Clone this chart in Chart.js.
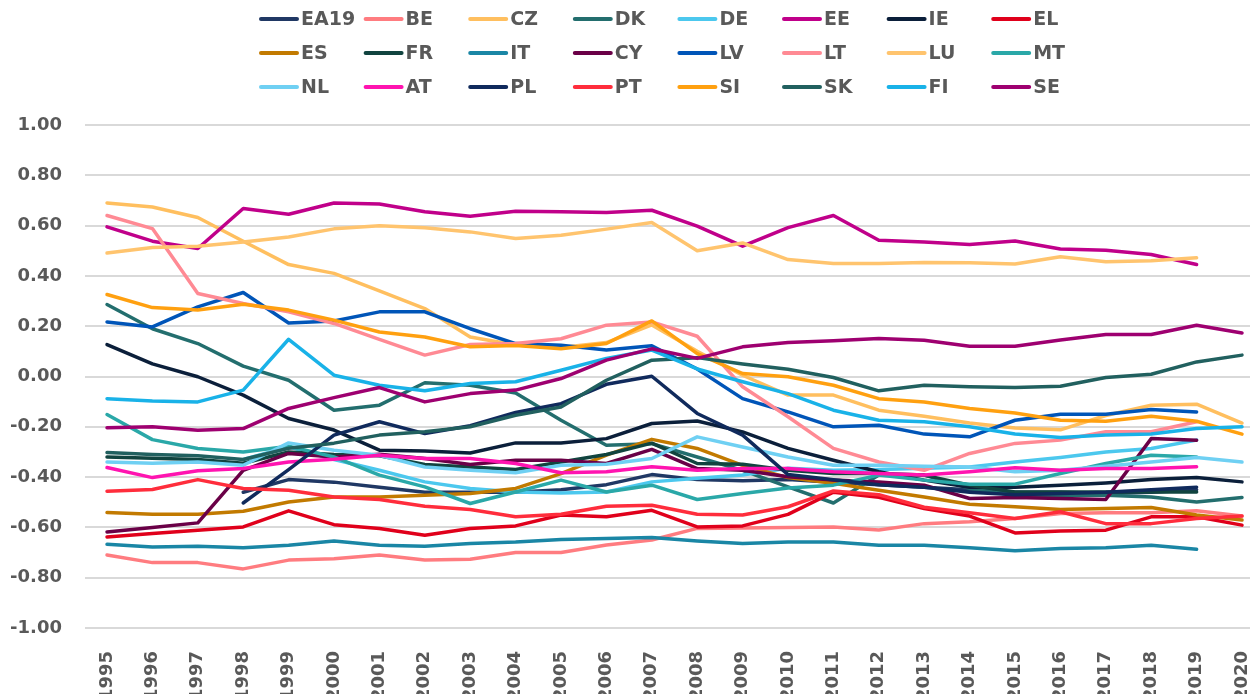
<!DOCTYPE html>
<html>
<head>
<meta charset="utf-8">
<script src="https://cdn.jsdelivr.net/npm/chart.js@4/dist/chart.umd.min.js"></script>
<style>
  body { margin: 0; background: #fff; overflow: hidden; }
</style>
</head>
<body>
<canvas id="corr_chart" width="1250" height="694"></canvas>
<script>
const years = [1995, 1996, 1997, 1998, 1999, 2000, 2001, 2002, 2003, 2004, 2005, 2006, 2007,
  2008, 2009, 2010, 2011, 2012, 2013, 2014, 2015, 2016, 2017, 2018, 2019, 2020];

const yTicks = [-1, -0.8, -0.6, -0.4, -0.2, 0, 0.2, 0.4, 0.6, 0.8, 1];

const countries = ["EA19", "BE", "CZ", "DK", "DE", "EE", "IE", "EL",
  "ES", "FR", "IT", "CY", "LV", "LT", "LU", "MT",
  "NL", "AT", "PL", "PT", "SI", "SK", "FI", "SE"];

const colors = ["#203864", "#ff7c80", "#ffbf5f", "#236e6e", "#4cc8ee", "#c0008a", "#0b1f3a", "#e0001b",
  "#c27a00", "#11443f", "#1a86a5", "#6a0047", "#0055b8", "#ff8a94", "#ffc46e", "#2aa8a8",
  "#6fd0f3", "#ff14b0", "#102a5c", "#ff2d3c", "#ffa010", "#21605f", "#19b2e8", "#9e0070"];

const EA19 = [null, null, null, -0.46, -0.41, -0.42, -0.44, -0.46, -0.46, -0.46, -0.45, -0.43, -0.39,
  -0.41, -0.415, -0.41, -0.42, -0.43, -0.44, -0.45, -0.46, -0.46, -0.465, -0.46, -0.45, null];
const BE = [-0.71, -0.74, -0.74, -0.765, -0.73, -0.725, -0.71, -0.73, -0.727, -0.70, -0.70, -0.67, -0.65,
  -0.604, -0.602, -0.60, -0.598, -0.61, -0.585, -0.578, -0.565, -0.545, -0.542, -0.542, -0.534, -0.555];
const CZ = [0.69, 0.674, 0.632, 0.538, 0.445, 0.41, 0.34, 0.27, 0.157, 0.125, 0.115, 0.135, 0.205,
  0.10, 0.005, -0.074, -0.074, -0.134, -0.158, -0.185, -0.205, -0.212, -0.155, -0.114, -0.11, -0.185];
const DK = [0.286, 0.19, 0.131, 0.041, -0.015, -0.134, -0.114, -0.025, -0.035, -0.066, -0.174, -0.273, -0.267,
  -0.32, -0.373, -0.439, -0.503, -0.392, -0.392, -0.445, -0.472, -0.472, -0.472, -0.479, -0.499, -0.481];
const DE = [null, null, null, -0.33, -0.28, -0.33, -0.373, -0.419, -0.445, -0.459, -0.463, -0.459, -0.419,
  -0.405, -0.392, -0.365, -0.373, -0.37, -0.365, -0.36, -0.34, -0.322, -0.30, -0.286, -0.253, null];
const EE = [0.595, 0.538, 0.509, 0.668, 0.645, 0.69, 0.686, 0.655, 0.637, 0.657, 0.655, 0.652, 0.661,
  0.598, 0.518, 0.592, 0.64, 0.542, 0.535, 0.525, 0.539, 0.507, 0.502, 0.485, 0.445, null];
const IE = [0.127, 0.05, -0.001, -0.074, -0.167, -0.213, -0.293, -0.296, -0.304, -0.264, -0.264, -0.247, -0.187,
  -0.177, -0.22, -0.286, -0.333, -0.379, -0.412, -0.44, -0.44, -0.432, -0.423, -0.41, -0.402, -0.419];
const EL = [-0.638, -0.624, -0.611, -0.598, -0.534, -0.589, -0.604, -0.631, -0.604, -0.594, -0.551, -0.558, -0.532,
  -0.598, -0.594, -0.548, -0.46, -0.48, -0.525, -0.555, -0.622, -0.614, -0.611, -0.558, -0.558, -0.591];
const ES = [-0.541, -0.548, -0.548, -0.536, -0.499, -0.479, -0.479, -0.472, -0.465, -0.445, -0.386, -0.313, -0.25,
  -0.286, -0.353, -0.402, -0.425, -0.452, -0.479, -0.508, -0.518, -0.529, -0.525, -0.521, -0.551, -0.571];
const FR = [-0.32, -0.325, -0.33, -0.345, -0.30, -0.31, -0.315, -0.35, -0.36, -0.37, -0.34, -0.31, -0.265,
  -0.346, -0.349, -0.373, -0.386, -0.386, -0.392, -0.432, -0.459, -0.459, -0.459, -0.459, -0.459, null];
const IT = [-0.667, -0.678, -0.675, -0.681, -0.671, -0.654, -0.671, -0.675, -0.664, -0.658, -0.648, -0.644, -0.64,
  -0.654, -0.664, -0.658, -0.658, -0.671, -0.671, -0.681, -0.693, -0.684, -0.681, -0.671, -0.687, null];
const CY = [-0.618, -0.60, -0.582, -0.373, -0.306, -0.32, -0.309, -0.326, -0.35, -0.333, -0.333, -0.346, -0.29,
  -0.366, -0.373, -0.399, -0.412, -0.419, -0.432, -0.485, -0.481, -0.485, -0.489, -0.247, -0.253, null];
const LV = [0.217, 0.197, 0.277, 0.334, 0.213, 0.221, 0.257, 0.257, 0.19, 0.131, 0.124, 0.105, 0.122,
  0.03, -0.088, -0.141, -0.2, -0.194, -0.229, -0.24, -0.174, -0.15, -0.15, -0.131, -0.141, null];
const LT = [0.64, 0.588, 0.33, 0.29, 0.257, 0.211, 0.148, 0.085, 0.127, 0.131, 0.15, 0.204, 0.217,
  0.16, -0.041, -0.16, -0.286, -0.34, -0.373, -0.306, -0.266, -0.253, -0.22, -0.22, -0.18, null];
const LU = [0.491, 0.513, 0.518, 0.535, 0.555, 0.587, 0.599, 0.591, 0.575, 0.549, 0.562, 0.586, 0.612,
  0.50, 0.531, 0.465, 0.449, 0.449, 0.453, 0.452, 0.447, 0.476, 0.456, 0.46, 0.472, null];
const MT = [-0.151, -0.251, -0.286, -0.30, -0.277, -0.32, -0.392, -0.439, -0.505, -0.459, -0.412, -0.459, -0.432,
  -0.489, -0.465, -0.443, -0.432, -0.392, -0.412, -0.428, -0.428, -0.386, -0.346, -0.313, -0.32, null];
const NL = [-0.34, -0.345, -0.34, -0.353, -0.264, -0.293, -0.313, -0.36, -0.373, -0.383, -0.353, -0.349, -0.326,
  -0.24, -0.28, -0.32, -0.353, -0.353, -0.357, -0.36, -0.379, -0.373, -0.357, -0.34, -0.322, -0.34];
const AT = [-0.362, -0.402, -0.375, -0.366, -0.34, -0.329, -0.313, -0.326, -0.326, -0.346, -0.383, -0.379, -0.359,
  -0.373, -0.366, -0.366, -0.379, -0.386, -0.392, -0.379, -0.363, -0.373, -0.366, -0.366, -0.359, null];
const PL = [null, null, null, -0.503, -0.37, -0.233, -0.18, -0.227, -0.196, -0.143, -0.108, -0.031, 0.001,
  -0.147, -0.233, -0.39, -0.41, -0.43, -0.44, -0.46, -0.47, -0.465, -0.46, -0.45, -0.44, null];
const PT = [-0.456, -0.449, -0.41, -0.445, -0.452, -0.479, -0.489, -0.516, -0.529, -0.558, -0.548, -0.516, -0.512,
  -0.548, -0.551, -0.518, -0.455, -0.47, -0.52, -0.542, -0.565, -0.538, -0.585, -0.585, -0.565, -0.555];
const SI = [0.326, 0.274, 0.264, 0.287, 0.264, 0.224, 0.177, 0.157, 0.118, 0.123, 0.11, 0.131, 0.221,
  0.091, 0.012, -0.001, -0.035, -0.088, -0.101, -0.127, -0.145, -0.174, -0.178, -0.158, -0.178, -0.229];
const SK = [-0.302, -0.31, -0.315, -0.33, -0.285, -0.265, -0.233, -0.22, -0.2, -0.154, -0.121, -0.015, 0.065,
  0.075, 0.05, 0.029, -0.004, -0.057, -0.035, -0.041, -0.044, -0.039, -0.004, 0.009, 0.058, 0.085];
const FI = [-0.088, -0.097, -0.101, -0.054, 0.148, 0.005, -0.035, -0.057, -0.028, -0.021, 0.025, 0.072, 0.105,
  0.03, -0.021, -0.068, -0.134, -0.174, -0.18, -0.2, -0.229, -0.243, -0.233, -0.229, -0.207, -0.2];
const SE = [-0.204, -0.2, -0.214, -0.207, -0.127, -0.084, -0.044, -0.101, -0.068, -0.054, -0.008, 0.065, 0.11,
  0.072, 0.118, 0.135, 0.142, 0.151, 0.144, 0.12, 0.12, 0.145, 0.167, 0.167, 0.204, 0.173];

const series = [EA19, BE, CZ, DK, DE, EE, IE, EL, ES, FR, IT, CY, LV, LT, LU, MT,
  NL, AT, PL, PT, SI, SK, FI, SE];

const tickFont = { family: "DejaVu Sans", size: 18, weight: "bold" };

// legend is drawn as a fixed grid (8 columns x 3 rows), like the original
const gridLegend = {
  id: "gridLegend",
  afterDraw(chart) {
    const ctx = chart.ctx;
    ctx.save();
    ctx.font = 'bold 19px "DejaVu Sans"';
    ctx.textBaseline = "middle";
    ctx.fillStyle = "#595959";
    chart.data.datasets.forEach((ds, i) => {
      const x = 261 + (i % 8) * 104.6;
      const y = 19 + Math.floor(i / 8) * 34;
      ctx.strokeStyle = ds.borderColor;
      ctx.lineWidth = 4;
      ctx.lineCap = "round";
      ctx.beginPath();
      ctx.moveTo(x, y);
      ctx.lineTo(x + 36, y);
      ctx.stroke();
      ctx.fillText(ds.label, x + 40, y + 1);
    });
    ctx.restore();
  },
};

const canvas = document.getElementById("corr_chart");

new Chart(canvas, {
  type: "line",
  data: {
    datasets: countries.map((name, i) => ({
      label: name,
      data: years.map((yr, j) => ({ x: yr, y: series[i][j] })),
      borderColor: colors[i],
      backgroundColor: colors[i],
      borderWidth: 3.5,
      borderJoinStyle: "round",
      borderCapStyle: "round",
      pointRadius: 0,
      tension: 0,
      order: -i,
    })),
  },
  options: {
    responsive: false,
    animation: false,
    devicePixelRatio: 1,
    layout: { padding: { top: 125, left: 0, right: 0, bottom: 0 } },
    plugins: {
      legend: { display: false },
      tooltip: { enabled: false },
    },
    scales: {
      x: {
        type: "linear",
        min: 1994.515,
        max: 2020.176,
        afterBuildTicks: (scale) => {
          scale.ticks = years.map((v) => ({ value: v }));
        },
        afterFit: (scale) => {
          scale.height = 66;
          scale.paddingLeft = 0;
          scale.paddingRight = 0;
        },
        grid: { display: false },
        border: { display: false },
        ticks: {
          autoSkip: false,
          minRotation: 90,
          maxRotation: 90,
          padding: 15,
          color: "#595959",
          font: tickFont,
          callback: (v) => String(v),
        },
      },
      y: {
        min: -1,
        max: 1,
        afterBuildTicks: (scale) => {
          scale.ticks = yTicks.map((v) => ({ value: v }));
        },
        afterFit: (scale) => {
          scale.width = 85;
          scale.paddingTop = 0;
          scale.paddingBottom = 0;
        },
        grid: { color: "#d9d9d9", lineWidth: 2, drawTicks: false },
        border: { display: false },
        ticks: {
          padding: 23,
          color: "#595959",
          font: tickFont,
          callback: (v) => (Math.abs(v) < 1e-9 ? 0 : v).toFixed(2),
        },
      },
    },
  },
  plugins: [gridLegend],
});
</script>
</body>
</html>
